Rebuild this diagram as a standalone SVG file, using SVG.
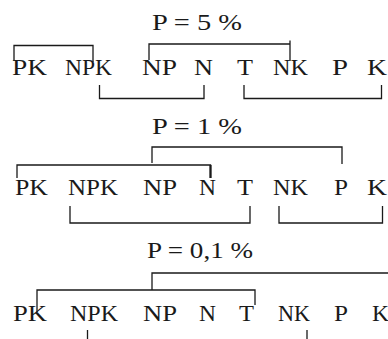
<svg xmlns="http://www.w3.org/2000/svg" width="388" height="339" viewBox="0 0 388 339">
  <style>
    text { font-family: "Liberation Serif", "Times New Roman", serif; font-size: 24px; fill: #1a1a1a; }
    .br { fill: none; stroke: #1a1a1a; stroke-width: 1.3; }
  </style>
  <rect width="388" height="339" fill="#ffffff"/>

  <!-- panel P = 5 % -->
  <g id="panel-5">
    <text id="title-5" x="152" y="30" textLength="90" lengthAdjust="spacingAndGlyphs">P = 5 %</text>
    <g id="r1-PK"><text x="12" y="75" textLength="35" lengthAdjust="spacingAndGlyphs">PK</text></g>
    <g id="r1-NPK"><text x="65" y="75" textLength="47" lengthAdjust="spacingAndGlyphs">NPK</text></g>
    <g id="r1-NP"><text x="142" y="75" textLength="35" lengthAdjust="spacingAndGlyphs">NP</text></g>
    <g id="r1-N"><text x="194" y="75" textLength="19" lengthAdjust="spacingAndGlyphs">N</text></g>
    <g id="r1-T"><text x="237" y="75" textLength="16" lengthAdjust="spacingAndGlyphs">T</text></g>
    <g id="r1-NK"><text x="273" y="75" textLength="35" lengthAdjust="spacingAndGlyphs">NK</text></g>
    <g id="r1-P"><text x="332" y="75" textLength="16" lengthAdjust="spacingAndGlyphs">P</text></g>
    <g id="r1-K"><text x="367" y="75" textLength="20" lengthAdjust="spacingAndGlyphs">K</text></g>
  </g>

  <!-- panel P = 1 % -->
  <g id="panel-1">
    <text id="title-1" x="152" y="134" textLength="90" lengthAdjust="spacingAndGlyphs">P = 1 %</text>
    <g id="r2-PK"><text x="15" y="195" textLength="33" lengthAdjust="spacingAndGlyphs">PK</text></g>
    <g id="r2-NPK"><text x="68" y="195" textLength="50" lengthAdjust="spacingAndGlyphs">NPK</text></g>
    <g id="r2-NP"><text x="143" y="195" textLength="34" lengthAdjust="spacingAndGlyphs">NP</text></g>
    <g id="r2-N"><text x="199" y="195" textLength="17" lengthAdjust="spacingAndGlyphs">N</text></g>
    <g id="r2-T"><text x="237" y="195" textLength="16" lengthAdjust="spacingAndGlyphs">T</text></g>
    <g id="r2-NK"><text x="273" y="195" textLength="35" lengthAdjust="spacingAndGlyphs">NK</text></g>
    <g id="r2-P"><text x="334" y="195" textLength="14" lengthAdjust="spacingAndGlyphs">P</text></g>
    <g id="r2-K"><text x="367" y="195" textLength="20" lengthAdjust="spacingAndGlyphs">K</text></g>
  </g>

  <!-- panel P = 0,1 % -->
  <g id="panel-01">
    <text id="title-01" x="147" y="258" textLength="106" lengthAdjust="spacingAndGlyphs">P = 0,1 %</text>
    <g id="r3-PK"><text x="13" y="321" textLength="34" lengthAdjust="spacingAndGlyphs">PK</text></g>
    <g id="r3-NPK"><text x="70" y="321" textLength="48" lengthAdjust="spacingAndGlyphs">NPK</text></g>
    <g id="r3-NP"><text x="143" y="321" textLength="34" lengthAdjust="spacingAndGlyphs">NP</text></g>
    <g id="r3-N"><text x="199" y="321" textLength="17" lengthAdjust="spacingAndGlyphs">N</text></g>
    <g id="r3-T"><text x="239" y="321" textLength="15" lengthAdjust="spacingAndGlyphs">T</text></g>
    <g id="r3-NK"><text x="278" y="321" textLength="32" lengthAdjust="spacingAndGlyphs">NK</text></g>
    <g id="r3-P"><text x="334" y="321" textLength="14" lengthAdjust="spacingAndGlyphs">P</text></g>
    <g id="r3-K"><text x="372" y="321" textLength="17" lengthAdjust="spacingAndGlyphs">K</text></g>
  </g>

  <!-- brackets joining groups that do not differ -->
  <g id="connectors">
    <!-- P = 5 % -->
    <path class="br" d="M14 61 V45.5 H93 V62"/>
    <path class="br" d="M149 60 V44 H290"/>
    <path class="br" d="M290 40.5 V61"/>
    <path class="br" d="M99.5 85 V98.5 H204 V85"/>
    <path class="br" d="M244 85 V98.5 H381.5 V85"/>
    <!-- P = 1 % -->
    <path class="br" d="M152 163 V147 H342 V164"/>
    <path class="br" d="M17 178 V165 H210.5 V178"/>
    <path class="br" d="M210.5 165 V178" style="stroke-width:2.2"/>
    <path class="br" d="M70 206 V223 H250 V206"/>
    <path class="br" d="M279 206 V223 H382.5 V206"/>
    <!-- P = 0,1 % -->
    <path class="br" d="M152 290 V273 H388"/>
    <path class="br" d="M37 312 V290 H255 V305"/>
    <path class="br" d="M87.5 330 V339"/>
    <path class="br" d="M307 330 V339"/>
  </g>
</svg>
